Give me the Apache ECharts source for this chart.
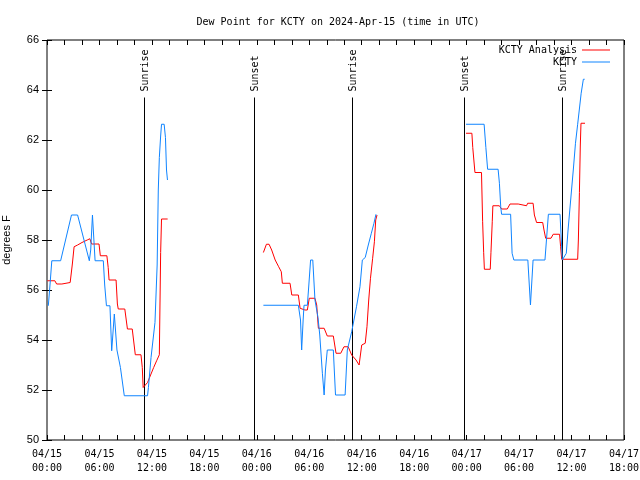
<!DOCTYPE html>
<html>
<head>
<meta charset="utf-8">
<script src="https://cdn.jsdelivr.net/npm/echarts@6/dist/echarts.min.js"></script>
<style>html,body{margin:0;padding:0;background:#fff}#c{width:640px;height:480px}</style>
</head>
<body>
<div id="c"></div>
<script>
// Hours since 2024-04-15 00:00 UTC; null value breaks the line
const analysisHours = [0.04,0.9,1.1,1.7,1.8,2.65,2.8,2.9,3.1,3.5,4.0,4.6,4.9,5.1,5.95,6.1,6.85,7.0,7.1,7.9,8.05,8.15,8.9,9.2,9.75,10.1,10.75,10.9,11.0,11.2,11.5,11.85,12.2,12.54,12.85,13.0,13.1,13.8,
  19,
  24.75,25.1,25.4,25.7,26.1,26.5,26.8,26.92,27.8,28.0,28.75,28.95,29.5,29.78,30.0,30.65,30.85,31.04,31.7,32.06,32.75,33.06,33.6,33.97,34.45,34.85,35.35,35.7,36.0,36.4,36.6,36.8,37.0,37.25,37.45,37.6,37.75,
  43,
  47.93,48.6,48.7,48.95,49.7,49.83,49.95,50.03,50.7,50.78,50.93,51.0,51.74,52.0,52.65,52.96,53.9,54.1,54.85,54.98,55.6,55.75,56.0,56.7,56.85,57.04,57.65,57.9,58.63,58.75,58.87,60.7,60.78,60.9,61.0,61.08,61.54];
const analysisValues = [56.37,56.37,56.24,56.24,56.3,56.3,56.37,57.04,57.73,57.8,57.9,58.0,58.05,57.84,57.84,57.37,57.37,56.9,56.4,56.4,55.44,55.24,55.24,54.44,54.44,53.41,53.41,52.9,52.1,52.1,52.3,52.6,52.9,53.17,53.41,57.5,58.84,58.84,
  null,
  57.5,57.83,57.83,57.6,57.2,56.93,56.73,56.27,56.27,55.8,55.8,55.27,55.2,55.2,55.67,55.67,55.4,54.47,54.47,54.16,54.16,53.47,53.47,53.73,53.73,53.4,53.2,53.0,53.8,53.87,54.53,55.6,56.47,57.27,57.93,58.8,59.0,
  null,
  62.27,62.27,61.7,60.7,60.7,58.73,57.49,56.83,56.83,57.49,58.73,59.37,59.37,59.24,59.24,59.44,59.44,59.37,59.37,59.47,59.47,59.0,58.7,58.7,58.4,58.07,58.07,58.23,58.23,57.73,57.23,57.23,58.0,59.9,61.76,62.67,62.67];

const ktyHours = [0.15,0.3,0.55,1.56,2.8,3.5,4.84,5.0,5.2,5.5,6.44,6.6,6.8,7.2,7.4,7.7,8.0,8.16,8.4,8.54,8.84,11.5,11.6,11.9,12.35,12.6,12.73,12.85,13.0,13.1,13.4,13.55,13.67,13.78,
  19,
  24.75,28.75,29.0,29.13,29.3,29.4,29.78,29.95,30.15,30.4,30.65,31.0,31.2,31.5,31.7,31.85,32.06,32.75,33.0,34.1,34.35,34.85,35.4,35.8,36.07,36.4,36.75,37.1,37.4,37.63,
  43,
  47.93,50.0,50.2,50.4,51.6,51.75,51.9,52.0,53.03,53.2,53.4,55.0,55.3,55.6,56.96,57.35,58.68,58.95,59.4,59.6,59.9,60.2,60.45,60.7,60.9,61.1,61.35,61.5];
const ktyValues = [55.37,56.0,57.17,57.17,59.0,59.0,57.17,57.6,59.0,57.17,57.17,56.2,55.37,55.37,53.57,55.04,53.6,53.57,52.9,52.9,51.77,51.77,52.1,53.3,54.7,57.0,60.0,61.3,62.16,62.63,62.63,62.1,60.8,60.4,
  null,
  55.39,55.39,54.8,53.6,54.8,55.39,55.39,56.2,57.2,57.2,55.6,54.9,54.2,52.67,51.8,52.8,53.6,53.6,51.8,51.8,53.6,54.33,55.33,56.13,57.2,57.3,57.8,58.27,58.67,59.03,
  null,
  62.63,62.63,61.7,60.83,60.83,60.27,59.33,59.03,59.03,57.47,57.2,57.2,55.4,57.2,57.2,59.03,59.03,57.2,57.47,58.4,59.6,60.8,61.87,62.63,62.67,63.87,64.43,64.43];

const eventNames = ['Sunrise','Sunset','Sunrise','Sunset','Sunrise'];
const eventHours = [11.04, 23.71, 34.92, 47.74, 58.87];

const yTicks = [50,52,54,56,58,60,62,64,66];
const dayLabels = ['04/15','04/16','04/17'];

const MONO = 'DejaVu Sans Mono';
const SANS = 'Liberation Sans';
const SUN_TOP = 63.7;

function zip(hs, vs){ return hs.map((h,i)=>[h, vs[i]]); }
function xLabel(v){
  const d = Math.floor(v/24), hh = v - d*24;
  return dayLabels[d] + '\n' + String(hh).padStart(2,'0') + ':00';
}

const chart = echarts.init(document.getElementById('c'), null, {renderer:'canvas'});
const xCommon = {
  type:'value', min:0, max:66, interval:6,
  axisLine:{show:false},
  splitLine:{show:false},
  axisTick:{show:true, inside:true, length:5, lineStyle:{color:'#000'}},
  minorTick:{show:true, splitNumber:3, length:5, lineStyle:{color:'#000'}},
  minorSplitLine:{show:false}
};
const yCommon = {
  type:'value', min:yTicks[0], max:yTicks[yTicks.length-1], interval:2,
  axisLine:{show:false},
  splitLine:{show:false},
  axisTick:{show:true, inside:true, length:5, lineStyle:{color:'#000'}}
};
chart.setOption({
  animation:false,
  backgroundColor:'#fff',
  title:{text:'Dew Point for KCTY on 2024-Apr-15 (time in UTC)', left:333, textAlign:'center', top:12,
    textStyle:{fontFamily:MONO, fontSize:10, fontWeight:'normal', color:'#000'}},
  legend:{orient:'vertical', right:25, top:40, align:'right', icon:'rect', itemWidth:28, itemHeight:1, itemGap:2,
    textStyle:{fontFamily:MONO, fontSize:10, color:'#000'},
    data:['KCTY Analysis','KCTY']},
  grid:{left:47, right:16, top:40, bottom:40, outerBoundsMode:'none', containLabel:false,
    show:true, borderColor:'#000', borderWidth:1, backgroundColor:'transparent'},
  xAxis:[
    Object.assign({}, xCommon, {position:'bottom',
      axisLabel:{show:true, margin:7, formatter:xLabel, fontFamily:MONO, fontSize:10, color:'#000', lineHeight:14, showMinLabel:true, showMaxLabel:true}}),
    Object.assign({}, xCommon, {position:'top', axisLabel:{show:false}})
  ],
  yAxis:[
    Object.assign({}, yCommon, {position:'left', name:'degrees F', nameLocation:'middle', nameGap:35, nameRotate:90,
      nameTextStyle:{fontFamily:SANS, fontSize:11, color:'#000'},
      axisLabel:{show:true, margin:8, fontFamily:SANS, fontSize:11, color:'#000'}}),
    Object.assign({}, yCommon, {position:'right', axisLabel:{show:false}})
  ],
  series:[
    {type:'custom', name:'sun', xAxisIndex:0, yAxisIndex:0, silent:true, z:1,
      data: eventHours.map((h,i)=>[h, i]),
      renderItem:function(params, api){
        const h = api.value(0);
        const p0 = api.coord([h, yTicks[0]]);
        const p1 = api.coord([h, SUN_TOP]);
        const x = Math.round(p0[0]) + 0.5;
        return {type:'group', children:[
          {type:'line', shape:{x1:x, y1:p0[1], x2:x, y2:p1[1]}, style:{stroke:'#000', lineWidth:1}},
          {type:'text', x:x+1, y:p1[1]-6, rotation:Math.PI/2,
            style:{text:eventNames[params.dataIndex], fill:'#000', font:'10px "'+MONO+'"', align:'left', verticalAlign:'middle'}}
        ]};
      }},
    {type:'line', name:'KCTY Analysis', data:zip(analysisHours, analysisValues), showSymbol:false, connectNulls:false,
      lineStyle:{color:'#ff0000', width:1}, itemStyle:{color:'#ff0000'}, z:3},
    {type:'line', name:'KCTY', data:zip(ktyHours, ktyValues), showSymbol:false, connectNulls:false,
      lineStyle:{color:'#0f84ff', width:1}, itemStyle:{color:'#0f84ff'}, z:4}
  ]
});
</script>
</body>
</html>
